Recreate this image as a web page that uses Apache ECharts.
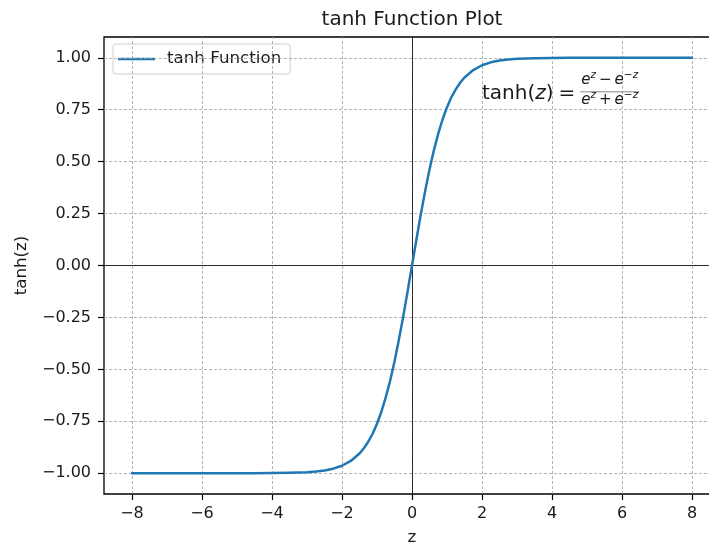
<!DOCTYPE html>
<html><head><meta charset="utf-8">
<script src="https://cdn.jsdelivr.net/npm/echarts@6/dist/echarts.min.js"></script>
<style>html,body{margin:0;padding:0;background:#fff;overflow:hidden}#c{width:709px;height:546px}</style>
</head><body><div id="c"></div>
<script>
// ---- data ----
const zValues = [-8, -7, -6, -5, -4.5, -4, -3.5, -3, -2.75, -2.5, -2.25, -2, -1.75, -1.5, -1.375, -1.25, -1.125, -1, -0.875, -0.75, -0.625, -0.5, -0.375, -0.25, -0.125, 0,
                 0.125, 0.25, 0.375, 0.5, 0.625, 0.75, 0.875, 1, 1.125, 1.25, 1.375, 1.5, 1.75, 2, 2.25, 2.5, 2.75, 3, 3.5, 4, 4.5, 5, 6, 7, 8];
const tanhValues = [-1.000, -1.000, -1.000, -0.9999, -0.9998, -0.9993, -0.998, -0.995, -0.992, -0.987, -0.978, -0.964, -0.941, -0.905, -0.880, -0.848, -0.810, -0.762, -0.704, -0.635, -0.555, -0.462, -0.358, -0.245, -0.124, 0,
                    0.124, 0.245, 0.358, 0.462, 0.555, 0.635, 0.704, 0.762, 0.810, 0.848, 0.880, 0.905, 0.941, 0.964, 0.978, 0.987, 0.992, 0.995, 0.998, 0.9993, 0.9998, 0.9999, 1.000, 1.000, 1.000];
const xTicks = [-8, -6, -4, -2, 0, 2, 4, 6, 8];
const yTicks = [-1.00, -0.75, -0.50, -0.25, 0.00, 0.25, 0.50, 0.75, 1.00];
const titleText = 'tanh Function Plot';
const seriesName = 'tanh Function';
const xName = 'z';
const yName = 'tanh(z)';
const annotationAt = [2, 0.8];

const FONT = 'DejaVu Sans';
const TXT = '#1a1a1a';
const minus = s => String(s).replace('-', '\u2212');

const chart = echarts.init(document.getElementById('c'), null, {renderer: 'canvas'});
const points = zValues.map((z, i) => [z, tanhValues[i]]);

const option = {
  animation: false,
  backgroundColor: '#fff',
  grid: {left: 104, top: 37, width: 616, bottom: 52, containLabel: false, outerBoundsMode: 'none',
         show: true, borderColor: '#000', borderWidth: 1.3, backgroundColor: 'transparent'},
  legend: {
    data: [{name: seriesName, icon: 'path://M0,0L37,0L37,2.5L0,2.5Z'}],
    left: 113, top: 44, orient: 'vertical',
    itemWidth: 37, itemHeight: 2.5,
    itemStyle: {color: '#1f77b4', borderWidth: 0},
    padding: [6, 9, 6, 5],
    backgroundColor: 'rgba(255,255,255,0.8)', borderColor: '#d0d0d0', borderWidth: 1, borderRadius: 3,
    textStyle: {fontFamily: FONT, fontSize: 16.7, color: TXT, lineHeight: 18, padding: [0, 0, 0, 7]}
  },
  xAxis: {
    type: 'value', min: -8.8, max: 8.8,
    name: xName, nameLocation: 'middle', nameGap: 35,
    nameTextStyle: {fontFamily: FONT, fontSize: 16.7, color: TXT},
    axisLine: {show: false, onZero: false},
    axisTick: {show: true, length: 6, inside: false, customValues: xTicks, lineStyle: {color: '#000', width: 1.2}},
    axisLabel: {customValues: xTicks, margin: 12, fontFamily: FONT, fontSize: 16, color: TXT, formatter: v => minus(v)},
    splitLine: {show: false}
  },
  yAxis: {
    type: 'value', min: -1.1, max: 1.1,
    name: yName, nameLocation: 'middle', nameGap: 74, nameRotate: 90,
    nameTextStyle: {fontFamily: FONT, fontSize: 16.7, color: TXT},
    axisLine: {show: false, onZero: false},
    axisTick: {show: true, length: 6, inside: false, customValues: yTicks, lineStyle: {color: '#000', width: 1.2}},
    axisLabel: {customValues: yTicks, margin: 13, fontFamily: FONT, fontSize: 16, color: TXT, formatter: v => minus(v.toFixed(2))},
    splitLine: {show: false}
  },
  series: [
    {
      name: 'grid', type: 'line', data: points, showSymbol: false, silent: true,
      lineStyle: {width: 0, opacity: 0},
      markLine: {
        silent: true, symbol: ['none', 'none'], label: {show: false}, animation: false,
        lineStyle: {type: [3, 2], color: '#a0a0a0', width: 0.8},
        data: xTicks.map(v => ({xAxis: v})).concat(yTicks.map(v => ({yAxis: v})))
      }
    },
    {
      name: 'zero', type: 'line', data: points, showSymbol: false, silent: true,
      lineStyle: {width: 0, opacity: 0},
      markLine: {
        silent: true, symbol: ['none', 'none'], label: {show: false}, animation: false,
        lineStyle: {type: 'solid', color: '#000', width: 0.8},
        data: [{xAxis: 0}, {yAxis: 0}]
      }
    },
    {
      name: seriesName, type: 'line', data: points, showSymbol: false,
      smooth: false,
      color: '#1f77b4',
      lineStyle: {color: '#1f77b4', width: 2.5, join: 'round', cap: 'round'},
      z: 5
    }
  ]
};
chart.setOption(option);

// ---- text overlays: title and formula annotation, anchored through the axes ----
const ctx = document.createElement('canvas').getContext('2d');
function measure(t, fs, italic) {
  ctx.font = (italic ? 'italic ' : '') + fs + 'px "' + FONT + '"';
  return ctx.measureText(t).width;
}
function runPieces(pieces, x0, baseline, out) {
  let x = x0;
  pieces.forEach(p => {
    if (p.t) {
      out.push({
        type: 'text', z: 100,
        style: {text: p.t, x: x, y: baseline + (p.dy || 0) - 0.3 * p.fs, fill: TXT,
                font: (p.it ? 'italic ' : '') + p.fs + 'px "' + FONT + '"',
                textAlign: 'left', textVerticalAlign: 'middle'}
      });
      x += measure(p.t, p.fs, p.it);
    }
    if (p.sp) x += p.sp;
  });
  return x - x0;
}
function widthOf(pieces) {
  return pieces.reduce((s, p) => s + (p.t ? measure(p.t, p.fs, p.it) : 0) + (p.sp || 0), 0);
}

const center = chart.convertToPixel({gridIndex: 0}, [0, 0]);
const anchor = chart.convertToPixel({gridIndex: 0}, annotationAt);
const gridTop = chart.convertToPixel({gridIndex: 0}, [0, 1.1])[1];

const els = [];
const TF = 20;
els.push({type: 'text', z: 100, style: {text: titleText, x: center[0], y: gridTop - 11 - 0.3 * TF,
  font: TF + 'px "' + FONT + '"', fill: TXT, textAlign: 'center', textVerticalAlign: 'middle'}});

const FM = 20, FF = 15, FS = 10.5;
const B = anchor[1];
const mainPieces = [{t: 'tanh(', fs: FM}, {t: 'z', fs: FM, it: true}, {t: ')', fs: FM, sp: 5}, {t: '=', fs: FM, sp: 4}];
const mw = runPieces(mainPieces, anchor[0], B, els);
const numP = [{t: 'e', fs: FF, it: true}, {t: 'z', fs: FS, it: true, dy: -6, sp: 3}, {t: '\u2212', fs: FF, sp: 3},
              {t: 'e', fs: FF, it: true}, {t: '\u2212', fs: FS, dy: -6}, {t: 'z', fs: FS, it: true, dy: -6}];
const denP = [{t: 'e', fs: FF, it: true}, {t: 'z', fs: FS, it: true, dy: -6, sp: 3}, {t: '+', fs: FF, sp: 3},
              {t: 'e', fs: FF, it: true}, {t: '\u2212', fs: FS, dy: -6}, {t: 'z', fs: FS, it: true, dy: -6}];
const fx = anchor[0] + mw + 1;
const nw = widthOf(numP), dw = widthOf(denP);
const fw = Math.max(nw, dw) + 2;
runPieces(numP, fx + (fw - nw) / 2, B - 14.5, els);
runPieces(denP, fx + (fw - dw) / 2, B + 5.5, els);
els.push({type: 'line', z: 100, shape: {x1: fx, y1: B - 7.5, x2: fx + fw, y2: B - 7.5},
  style: {stroke: '#333', lineWidth: 0.6}});

chart.setOption({graphic: {elements: els}});
</script>
</body></html>
